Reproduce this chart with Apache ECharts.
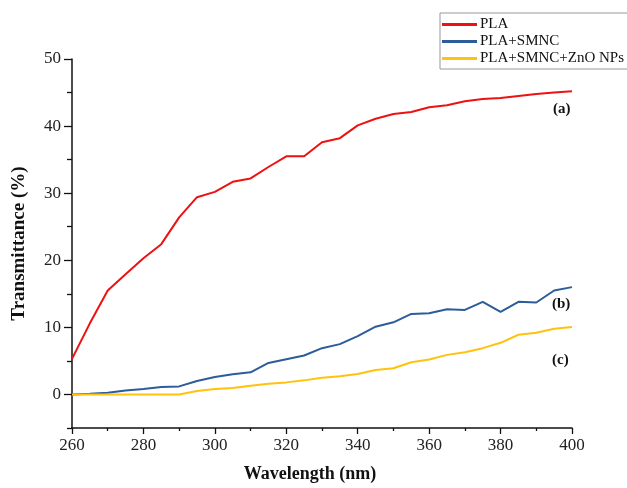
<!DOCTYPE html>
<html>
<head>
<meta charset="utf-8">
<script src="https://cdn.jsdelivr.net/npm/echarts@6/dist/echarts.min.js"></script>
<style>
  html, body { margin: 0; padding: 0; background: #fff; }
  #chart { width: 627px; height: 488px; }
</style>
</head>
<body>
<div id="chart"></div>
<script>
// Wavelength sampling (nm)
const wavelengths = [260, 265, 270, 275, 280, 285, 290, 295, 300, 305, 310, 315, 320, 325, 330,
  335, 340, 345, 350, 355, 360, 365, 370, 375, 380, 385, 390, 395, 400];

// Transmittance (%) for each film
const pla = [5.3, 10.6, 15.5, 17.9, 20.3, 22.4, 26.4, 29.4, 30.2, 31.7, 32.2, 33.9, 35.5, 35.5, 37.6,
  38.2, 40.1, 41.1, 41.8, 42.1, 42.8, 43.1, 43.7, 44.05, 44.2, 44.5, 44.8, 45.0, 45.2];
const plaSmnc = [0, 0.1, 0.25, 0.6, 0.8, 1.1, 1.2, 2.0, 2.6, 3.0, 3.3, 4.7, 5.25, 5.8, 6.9,
  7.5, 8.7, 10.1, 10.75, 12.0, 12.1, 12.7, 12.6, 13.8, 12.3, 13.8, 13.7, 15.5, 16.0];
const plaSmncZno = [0, 0, 0, 0, 0, 0, 0, 0.5, 0.8, 0.95, 1.3, 1.6, 1.8, 2.1, 2.5,
  2.7, 3.05, 3.65, 3.9, 4.8, 5.2, 5.9, 6.3, 6.9, 7.7, 8.9, 9.2, 9.8, 10.05];

const seriesNames = ['PLA', 'PLA+SMNC', 'PLA+SMNC+ZnO NPs'];
const curveTags = ['(a)', '(b)', '(c)'];

// Y axis: labelled major ticks and the half-step minor ticks
const yMajorTicks = [0, 10, 20, 30, 40, 50];
const yMinorTicks = [-5, 5, 15, 25, 35, 45];

const serif = '"Liberation Serif", "Times New Roman", serif';
const pairs = arr => wavelengths.map((w, i) => [w, arr[i]]);

const chart = echarts.init(document.getElementById('chart'));

const yBase = { type: 'value', min: -5, max: 50, position: 'left', splitLine: { show: false } };

chart.setOption({
  animation: false,
  backgroundColor: '#fff',
  grid: { left: 72, right: 55, top: 59, bottom: 59 },
  legend: {
    orient: 'vertical',
    left: 440,
    top: 13,
    data: seriesNames,
    icon: 'rect',
    itemWidth: 35,
    itemHeight: 3,
    itemGap: 2,
    padding: [4, 8, 3, 2],
    borderColor: '#999',
    borderWidth: 1,
    textStyle: { fontFamily: serif, fontSize: 15, color: '#111', padding: [0, 0, 0, -2] }
  },
  xAxis: {
    type: 'value',
    min: 260,
    max: 400,
    interval: 20,
    name: 'Wavelength (nm)',
    nameLocation: 'middle',
    nameGap: 37,
    nameTextStyle: { fontFamily: serif, fontSize: 18, fontWeight: 'bold', color: '#111', padding: [0, 24, 0, 0] },
    splitLine: { show: false },
    axisLine: { show: true, onZero: false, lineStyle: { color: '#111', width: 1.5 } },
    axisTick: { show: true, inside: false, length: 6, lineStyle: { color: '#111', width: 1.3 } },
    minorTick: { show: true, splitNumber: 2, length: 3, lineStyle: { color: '#111', width: 1.3 } },
    minorSplitLine: { show: false },
    axisLabel: { fontFamily: serif, fontSize: 17, color: '#222', margin: 9 }
  },
  yAxis: [
    Object.assign({}, yBase, {
      name: 'Transmittance (%)',
      nameLocation: 'middle',
      nameGap: 43,
      nameTextStyle: { fontFamily: serif, fontSize: 19, fontWeight: 'bold', color: '#111' },
      axisLine: { show: true, onZero: false, lineStyle: { color: '#111', width: 1.5 } },
      axisTick: { show: true, inside: false, length: 8, customValues: yMajorTicks,
        lineStyle: { color: '#111', width: 1.3 } },
      axisLabel: { fontFamily: serif, fontSize: 17, color: '#222', margin: 11, customValues: yMajorTicks }
    }),
    Object.assign({}, yBase, {
      axisLine: { show: false },
      axisTick: { show: true, inside: false, length: 5, customValues: yMinorTicks,
        lineStyle: { color: '#111', width: 1.3 } },
      axisLabel: { show: false }
    })
  ],
  series: [
    { name: seriesNames[0], type: 'line', data: pairs(pla), symbol: 'none',
      lineStyle: { color: '#ee1111', width: 2 }, itemStyle: { color: '#ee1111' } },
    { name: seriesNames[1], type: 'line', data: pairs(plaSmnc), symbol: 'none',
      lineStyle: { color: '#2d5c9a', width: 2 }, itemStyle: { color: '#2d5c9a' } },
    { name: seriesNames[2], type: 'line', data: pairs(plaSmncZno), symbol: 'none',
      lineStyle: { color: '#ffc20e', width: 2 }, itemStyle: { color: '#ffc20e' } }
  ],
  graphic: [
    { type: 'text', left: 553, top: 102, style: { text: curveTags[0], font: 'bold 15px ' + serif, fill: '#111' } },
    { type: 'text', left: 552, top: 297, style: { text: curveTags[1], font: 'bold 15px ' + serif, fill: '#111' } },
    { type: 'text', left: 552, top: 353, style: { text: curveTags[2], font: 'bold 15px ' + serif, fill: '#111' } }
  ]
});
</script>
</body>
</html>
